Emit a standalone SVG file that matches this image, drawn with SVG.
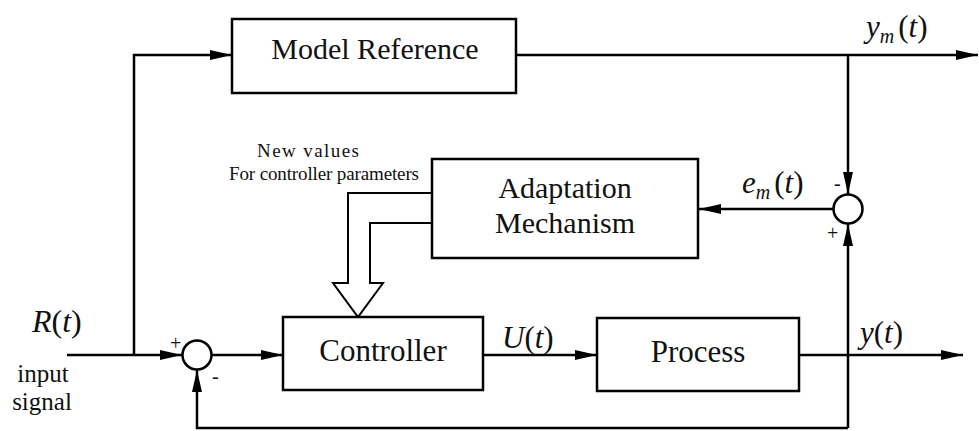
<svg xmlns="http://www.w3.org/2000/svg" width="979" height="431" viewBox="0 0 979 431">
<style>
.box{fill:#fff;stroke:#000;stroke-width:2.5}
.ln{fill:none;stroke:#000;stroke-width:2.5}
text{font-family:"Liberation Serif","Times New Roman",serif;fill:#111}
.it{font-style:italic}
</style>
<defs>
<marker id="ah" markerUnits="userSpaceOnUse" markerWidth="24" markerHeight="12" refX="22" refY="5" orient="auto">
<path d="M0,0 L22,5 L0,10 z" fill="#000"/>
</marker>
</defs>
<rect width="979" height="431" fill="#fff"/>
<g id="connectors">
<path class="ln" d="M67,355 L182,355" marker-end="url(#ah)"/>
<path class="ln" d="M134,355 L134,55 L232,55" marker-end="url(#ah)"/>
<path class="ln" d="M516,55 L978,55" marker-end="url(#ah)"/>
<path class="ln" d="M848,55 L848,194" marker-end="url(#ah)"/>
<path class="ln" d="M833,209 L699,209" marker-end="url(#ah)"/>
<path class="ln" d="M848,428 L848,224" marker-end="url(#ah)"/>
<path class="ln" d="M848,428 L197,428 L197,370" marker-end="url(#ah)"/>
<path class="ln" d="M212,355 L283,355" marker-end="url(#ah)"/>
<path class="ln" d="M483,355 L597,355" marker-end="url(#ah)"/>
<path class="ln" d="M799,355 L963,355" marker-end="url(#ah)"/>
<path d="M432,193 L348,193 L348,283 L333,283 L358,317 L383,283 L370,283 L370,223 L432,223" fill="#fff" stroke="#000" stroke-width="2"/>
</g>
<g id="model-reference">
<rect class="box" x="232" y="19" width="284" height="74"/>
<text x="375" y="59" font-size="30" text-anchor="middle">Model Reference</text>
</g>
<g id="adaptation">
<rect class="box" x="432" y="159" width="266" height="99"/>
<text x="565" y="198" font-size="30" text-anchor="middle">Adaptation</text>
<text x="565" y="233" font-size="30" text-anchor="middle">Mechanism</text>
</g>
<g id="controller">
<rect class="box" x="283" y="317" width="200" height="73"/>
<text x="383" y="361" font-size="31" text-anchor="middle">Controller</text>
</g>
<g id="process">
<rect class="box" x="597" y="318" width="202" height="73"/>
<text x="698" y="362" font-size="31" text-anchor="middle">Process</text>
</g>
<g id="sum-input">
<circle cx="197" cy="355" r="14.5" fill="#fff" stroke="#000" stroke-width="2.5"/>
<text x="170" y="350" font-size="20">+</text>
<text x="212" y="383" font-size="20">-</text>
</g>
<g id="sum-error">
<circle cx="848" cy="209" r="14.5" fill="#fff" stroke="#000" stroke-width="2.5"/>
<text x="834" y="190" font-size="20">-</text>
<text x="827" y="240" font-size="20">+</text>
</g>
<g id="labels">
<text x="257" y="157" font-size="19" textLength="102">New values</text>
<text x="229" y="180" font-size="19" textLength="190">For controller parameters</text>
<text x="32" y="332" font-size="32"><tspan class="it">R</tspan>(<tspan class="it">t</tspan>)</text>
<text x="43" y="382" font-size="25" text-anchor="middle">input</text>
<text x="42" y="410" font-size="25" text-anchor="middle">signal</text>
<text x="502" y="348" font-size="31"><tspan class="it">U</tspan>(<tspan class="it">t</tspan>)</text>
<text x="860" y="343" font-size="31"><tspan class="it">y</tspan>(<tspan class="it">t</tspan>)</text>
<text x="866" y="37" font-size="31"><tspan class="it">y</tspan><tspan class="it" font-size="20" dy="6">m</tspan><tspan dx="4" dy="-6">(</tspan><tspan class="it">t</tspan>)</text>
<text x="742" y="193" font-size="31"><tspan class="it">e</tspan><tspan class="it" font-size="20" dy="6">m</tspan><tspan dx="4" dy="-6">(</tspan><tspan class="it">t</tspan>)</text>
</g>
</svg>
